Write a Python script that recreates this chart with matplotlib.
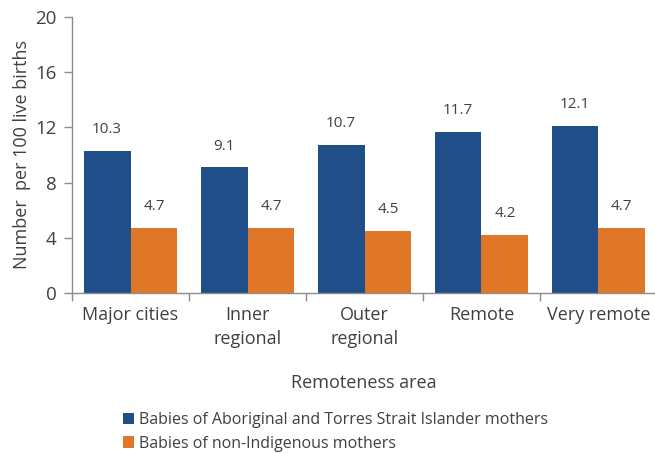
import matplotlib
matplotlib.use("Agg")
import matplotlib.pyplot as plt
import numpy as np

plt.rcParams['font.family'] = ['Open Sans', 'DejaVu Sans']

categories = ["Major cities", "Inner\nregional", "Outer\nregional", "Remote", "Very remote"]
indigenous = [10.3, 9.1, 10.7, 11.7, 12.1]
non_indigenous = [4.7, 4.7, 4.5, 4.2, 4.7]
series_names = ["Babies of Aboriginal and Torres Strait Islander mothers",
                "Babies of non-Indigenous mothers"]
yticks = [0, 4, 8, 12, 16, 20]

blue = "#1F4E89"
orange = "#E07728"
text_c = "#404040"
spine_c = "#8C8C8C"

fig = plt.figure(figsize=(6.55, 4.54), dpi=100)
ax = fig.add_axes([0.110, 0.3546, 0.893, 0.608])

x = np.arange(len(categories))
w = 0.4
b1 = ax.bar(x - w/2, indigenous, w, color=blue, label=series_names[0])
b2 = ax.bar(x + w/2, non_indigenous, w, color=orange, label=series_names[1])

for bars, vals in ((b1, indigenous), (b2, non_indigenous)):
    for r, v in zip(bars, vals):
        ax.annotate(f"{v:.1f}", (r.get_x() + r.get_width()/2, v),
                    xytext=(0, 10), textcoords="offset points",
                    ha="center", va="bottom", fontsize=11, color=text_c)

ax.set_xlim(-0.5, len(categories) - 0.5)
ax.set_ylim(0, 20)
ax.set_yticks(yticks)
ax.set_yticklabels([str(t) for t in yticks], fontsize=13.5, color=text_c)
ax.set_xticks(x)
ax.set_xticklabels(categories, fontsize=13, color=text_c, linespacing=1.45)
ax.set_xticks(np.arange(len(categories) + 1) - 0.5, minor=True)
ax.tick_params(axis='x', which='major', length=0, pad=9)
ax.tick_params(axis='x', which='minor', length=6, color=spine_c, width=1)
ax.tick_params(axis='y', length=6, color=spine_c, width=1, pad=5)

for s in ('top', 'right'):
    ax.spines[s].set_visible(False)
for s in ('left', 'bottom'):
    ax.spines[s].set_color(spine_c)
    ax.spines[s].set_linewidth(1)

ax.set_ylabel("Number  per 100 live births", fontsize=13, color=text_c, labelpad=3)
fig.text(0.556, 1 - 383/454, "Remoteness area", ha="center", va="center",
         fontsize=13, color=text_c)

leg = fig.legend(handles=[b1, b2], loc="upper left", bbox_to_anchor=(0.178, 1 - 406/454),
                 frameon=False, fontsize=11.5, handlelength=0.7, handleheight=0.7,
                 handletextpad=0.3, labelspacing=0.45, borderaxespad=0)
for t in leg.get_texts():
    t.set_color(text_c)

fig.savefig("out.png", dpi=100)
